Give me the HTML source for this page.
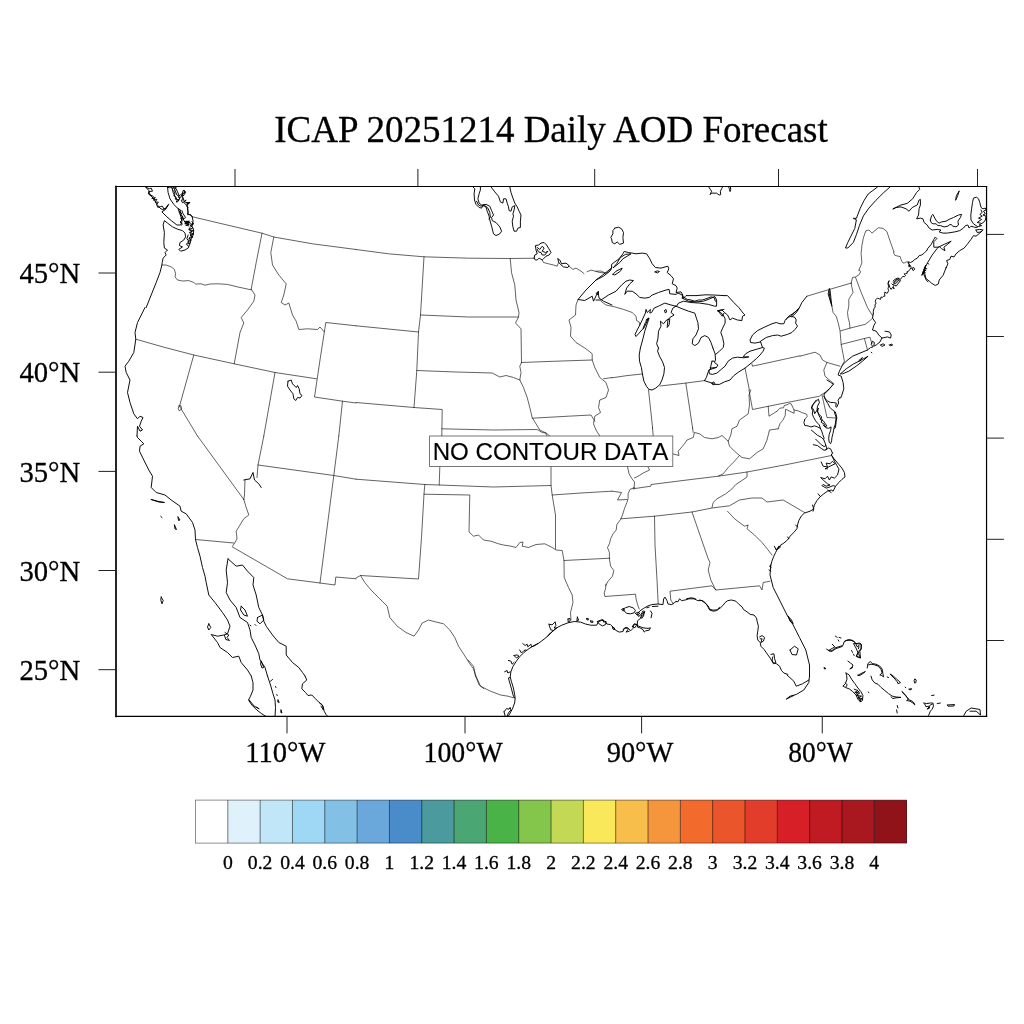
<!DOCTYPE html>
<html><head><meta charset="utf-8"><title>ICAP 20251214 Daily AOD Forecast</title>
<style>
html,body{margin:0;padding:0;background:#fff;}
svg{display:block;}
text{font-family:"Liberation Serif","Times New Roman",serif;fill:#000;stroke:#000;stroke-width:0.3px;}
.sans{font-family:"Liberation Sans",Arial,Helvetica,sans-serif;stroke-width:0.15px;font-kerning:none;}
</style></head><body>
<svg width="1024" height="1024" viewBox="0 0 1024 1024">
<rect width="1024" height="1024" fill="#fff"/>
<text x="551" y="141.7" font-size="37" text-anchor="middle">ICAP 20251214 Daily AOD Forecast</text>
<clipPath id="c"><rect x="116" y="186.5" width="870.6" height="529.8"/></clipPath>
<g clip-path="url(#c)" fill="none" stroke-linejoin="round" stroke-linecap="round">
<path d="M161.9,265 166.2,265 171.2,266.9 174.4,269.4 175.6,273.8 175,276.9 177.5,280 182.5,281 188.8,280.6 193.8,282.5 195.6,284 201.2,283.8 205,285.2 210,284 217.5,283.8 227.5,284.4 237.5,286.9 251,289.8M192.5,216.8 225,224.5 262,233.2 273.8,237 312.5,243.8 356,249.5M262,233.2 256.2,262.5 251.2,289.2M273.8,237 270.8,252.5 272.5,265 278.8,275 286.2,283.8 283.8,295 281.2,302.5 285,305 288.8,303 292.5,315 296.2,321.2 298.8,329.5 307.5,328.8 317.5,329.5 320,327 324.2,331.8M251.2,289.2 255,295 253.8,301.2 247.5,310 241.2,317.5 243.8,323 240,332.5 234.2,363.8M135.8,339.2 165,347.5 193.8,355 234.2,363.8 275,372.5 316.5,378.8M356,325.8 325.8,322.5 320,360 314.5,397 342.5,401.2 356,403M342.5,401.2 338.8,436M275,372.5 263.8,436M193.8,355 179.5,406.2 197.5,436M179,405.8 181,405.8 181.5,408.8 179.5,411 178.2,408.8 179,405.8M542.2,260 543.5,262.5 548.5,263.8 553.5,265 557.2,266.2 558.5,262.5M569.1,266.2 572.9,269.4 576,268.1 581,271.2 584,273.5M356,249.5 388.5,253.8 424,256.8 468.5,258.2 510.2,258.5 534.8,258.2M587,271.8 591,270 599.8,272.5 605,273M424,256.8 420.5,315 418.5,332 416.8,370.5 414,407.5M356,325.8 418.5,332M420.5,315 468.5,317 518.5,317M416.8,370.5 456,372 492.2,373 499.8,377 506,375.5 513.5,377.5 519.8,380M356,402.5 414,407.5 442.2,409.5 441.8,436M441.8,428.8 493.5,430 537.2,429.5 542.2,432.5 546,433M510.2,258.5 511.5,272.5 514.8,285 516,300 519,312.5 518.5,317 515.5,323 521,328.8 521.5,362.5M521.5,362.5 556,361.2 592.2,360M521.5,362.5 519.8,366.2 521,372.5 519.8,380 523.5,387.5 527.2,397.5 529.8,407.5 532.2,417.5 536,423.8 539.8,430 546,433 549.8,436M532.2,418.2 568.5,416.2 591,415 594.8,421.2M578,299.5 576,305 575.5,315 569,320 571,327.5 570.5,336.2 576,342.5 586,348.8 592.2,353.8 592.2,360 594.8,367.5 599.8,377.5 606,382.5 608.5,390 606,397.5 599.8,400 598.5,407.5 600.5,412.5 594.8,416.2 593.5,423.8 596,430 599.8,436M603.5,378.8 612,377.5M596,271.2 601,271 605.4,273.1 607.9,272.5 611,269.4M601,301.2 606,305 614.8,306.9 623.5,309.4 632.2,312.5 636,316.2 636.6,320.6 639.1,321.9 639.8,325M612,377.8 627,375.6 642,374M648.5,389.8 652.6,428M660.1,386 685.8,383.1 704.5,380.6M685.8,383.1 692.6,428M751.9,363.8 752.5,366.2 787.5,358.5 800,355.8M745,368.1 749.4,390M806.9,296.2 827.5,290 851.2,283.1M831.9,306.2 833.1,312.5 836.2,316.2 838.1,322.5 840,330.6 841.2,344.4 844.4,361.2 842.5,365M851.2,283.1 851.9,287.5 853.1,292.5 850.6,296.2 848.8,299.4 848.8,306.2 847.5,312.5 848.1,317.5 849.4,322.5 850,328.1M859.4,270 860.6,271.9 858.8,275 855.6,276.9 852.5,277.5 851.2,283.1M855.6,277.5 861.2,292.5 867.5,307.5 872.5,315.6M840.6,330.9 850,328.1 865,324.4 869.4,321.2 872.5,318.1M841.2,344.4 864.4,338.5 870,337.2 871.9,343.8M864.4,338.5 867.5,350M800,356.2 815,352.2 820,355 822.5,360 826.9,362.5 840,366.2M826.9,362.5 823.8,370 825,376.2 833.8,383.8 826.9,391.9 824.4,393.8M858.8,270.6 861.9,262.8 861.1,253.4 861.9,245.6 863.4,237.8 865.8,230.8 868.9,230 872,233.1 878.3,227.7 883,228.4 886.9,231.6 890,240.9 893.9,251.9M197.5,436 243.8,499.5M243.8,499.5 246.2,507.5 248.8,515 243.8,518.8 240,525 236.2,531.2 237,538.8 235,542.5 232.5,546.2M263.8,436 258,465 257,477.5M245,480 244.5,495 243.8,499.5M258,465 333.8,475.5 356,479.2M195.5,539.5 233.8,543M232.5,547 287.5,578.8 320,583 335,585 335.8,577 356,578.8M338.8,436 333.8,475.5 320,583M441.8,436 439.8,467.5 439.2,485M356,479.2 424.8,484.5 439.2,485 493.5,487 551,485.5M424.8,484.5 424,494.2 421.5,537.5 418.5,579 360.5,575.5 356,578M424,494.2 469.8,495 469,532 473.5,536.2 478.5,535 483.5,540 491,541.2 498.5,543.8 503.5,545 511,546.2 516,547.5 519.8,542.5 523,542 522.2,546.2 528.5,547.5 536,544.5 544.8,543.8 552.2,547.5 556,550 562.2,550.5 564,560.5 564.2,577.5 568.5,587.5 572.2,595 573,602.5 570.5,612.5 571,620M546,433.8 548,438.8 551,443.8 551,485.5 552.2,495 555.5,515 555.5,548.8M552.2,495 581,493 612,491.2M564,560.5 609.8,558.2M360.5,575.5 364.8,582.5 371,590 379.8,598.8 387.2,606.2 389.8,617.5 397.2,626.2 406,632.5 414,636.2 418.5,630 422.2,623 428.5,620 436,622 443.5,623.8 449.8,630 454.8,637.5 458.5,646.2 463.5,653.8 469.8,663.8 473.5,668.8 475.5,676M652.5,427.5 653.2,436.2M692.5,427.5 693.2,432.5M672.5,453.8 679,455.5 678.2,451.2 684.5,443.8 687,440 693.2,437.5 694.5,432.5 699.5,433.8 704.5,437.5 712,438.8 718.2,437.5 722,435.5 728.2,441.2 730.8,435 732,428.8 737,426.2 739.5,420 748.2,413.8 749.5,405 749,395 750.8,390M749,390 752.5,409.5 787,402.5 819.5,396.2M768.2,406.2 769,416.2 777,411.2M778.2,428.8 769.5,430 767,440 763.2,448.8 757,452.5 749.5,458.8 742,457.5 739.5,455.5 734.5,451.2 729.5,446.2 728.2,441.2M739.5,455.5 734.5,461.2 728.2,467.5 723.2,473.8 718.2,476.2M633.2,488.8 650.8,486.2 651.2,484.5 687,480 718.2,476.2 747,472 787,464.5 831.5,455.5M747,472 747,477 742,480.5 735.8,484.5 732,488.8 725.8,493.8 717,498.8 713.2,502.5 712,507.5M627.5,466.5 629,473.8 632,478.8 634.5,482 634,488.8M634.5,478 638.2,476.2 643.2,473 649.5,470 647.8,466.5M612,491.2 621.5,492.5 617.5,500 627,499.5M822,395 827,417.5 837,418M620.8,518.8 654.5,516.2 692,512 712,508 729.5,505.8 739.5,500 752,498 762,498 767,502 783.2,500 804.5,512.5M727.5,511.2 734.5,518.8 744.5,526.2 748.2,525 747,528.8 754.5,535 762,542.5 768.2,550 772,555M654.5,516.2 655,545 657,580 658.2,603.8M692,512 700.8,537.5 708.2,558.8 710,562.5 708.2,570 710.8,580 714.5,587.5 715.8,590M673.2,603.8 670.8,600 670,591.2 712,585.8 715.8,590 759.5,585.8 762,590 763.2,582.5 770,581.2M475.5,676 479.2,685 484,688.8M468,660 473.5,666.2 475.5,675 480.5,686.2 490.5,691.2 500.5,695 508,696.2 514.2,698M606.1,584 605.5,589 604.2,592.8 604.9,596.5 635.5,594.2 636.1,599 637.4,604 639.2,609M777,411.2 780,408.1 783.6,407.8 784.2,405.5 787,404.8 789.4,403.4 791.2,403.9 794.1,410 798.3,410.9 802.5,412.8 806.7,414.2 807.2,416.6 804.8,419.4M794.1,410 794.1,413.3 785.6,409.2 785.2,415.6 782.8,420.3 780,423.6 778.2,428.7M820.3,395.5 825.5,392.2M634.4,487.5 630,489.4 628.1,493.8 628.1,498.8 626.9,502.5 624.4,508.8 622.5,515 620.6,519.4 616.9,524.4 616.2,530 613.1,533.8 610.6,538.8 609.4,543.8 607.5,547.5 609.4,552.5 609.4,558.8 610.6,566.2 613.8,570.6 612.5,576.2 608.1,581.2 605.6,585.6M893.9,251.9 893.6,253.1 894.9,255.3 898,256.2 900.2,256.6 900.8,258.8 901.8,261.2 903,263.1 904.9,262.8 906.1,261.9 908,261.9" stroke="#000" stroke-width="0.62"/>
<path d="M145.6,186.9 148.8,190.6 150,195 153.8,198.8 156.9,204.4 160,208.1 163.1,210 166.2,208.1 168.1,205 165.6,209.4 161.9,211.9 166.2,216.2 171.2,220.6 176.9,225 180.6,225 181.9,221.9 181.2,217.5 179.4,212.5 178.1,208.8 173.8,204.4 170,198.8 168.1,192.5 167.5,186.9M171.9,186.9 173.1,192.5 175.6,197.5 178.1,200.6 180,197.5 183.8,193.8 185,191.2 183.1,190.6 181.9,195 182.5,198.8 185.6,202.5 189.4,202.5 186.9,205 187.5,206.9 188.1,213.8 191.2,215.6 192.1,216.5M173.8,187.5 176.9,195 179.4,196.2 176.2,188.8M192.1,216.5 193.1,221.2 191.9,226.2 193.8,230 193.1,235 191.2,238.8 190,243.8 188.1,248.1 185,250 180.6,251.2 178.8,249.4 182.5,246.9 179.4,245.6 180,242.5 183.8,240 185.6,236.9 185,233.1 182.5,230.6 178.1,229.4 172.5,226.9 167.5,223.1 164.4,220.6 163.1,225 164.4,232.5 163.8,242.5 164.4,248.1 167.5,250 165,252.5 166.2,255 163.1,258.1 162.2,262.5 161.9,265 160,272.5 156.2,282.5 151.2,295 146.2,307.5M182.5,217.5 185,222.5 188.8,225 186.9,221.2 190.6,223.1 192.5,225 190,227.5 188.8,229.4 191.9,231.2 190,233.8 192.5,236.2 189.4,237.5 188.8,241.2 186.9,238.8 188.1,235M180,210 181.2,215 183.8,218.8 185.6,217.5 183.1,213.8 181.9,210.6M288,381.2 291.2,380 292.5,383.8 296.2,387.5 297.5,385.5 299.2,388.8 300,393.8 302,395.5 300,398 297.5,397.5 295.8,400.5 293.8,398.8 293,393.8 290,390 287.5,386.2 288,381.2M145,307.5 137.5,322.5 135,332.5 135.8,339.2 133.8,352.5 128.8,361.2 125,366.2 126.2,372.5 130,380 127.5,392.5 130,402.5 133.8,413.8 137.5,418.8 140,416.2 143,417.5 141.2,421.2 139.5,426.2 142.5,430 140,431.2 137.5,426.2 137,436M472.9,186.9 474.8,188.8 474.1,193.8 474.5,200 476,204.4 479.1,207.5 481.6,208.1 482.9,205.6 486,206.9 487.2,211.2 489.1,216.2 489.8,220 491.6,226.2 493.5,233.8 496,235.6 499.8,233.8 501.6,231.2 499.8,226.9 496,222.5 492.2,220.6 491.6,217.5 493.5,215 491.6,210.6 489.8,206.2 486,204.4 481.6,205 479.1,203.1 477.9,198.8 479.1,193.8 480.4,190 480.4,186.9M476.6,201.2 478.5,205 481,206.2 484.1,205 487.9,208.1 489.8,212.5 490.4,217.5 488.8,218.8M491,186.9 494.8,191.9 498.5,196.2 500.4,201.9 502.9,203.1 503.5,198.8 506,198.8 507.2,203.1 508.5,206.9 509.1,210.6 511,211.2 512.2,206.9 514.8,205.6 514.1,210 512.9,213.8 513.5,216.2 512.2,221.2 512.9,226.9 514.1,231.2 516.6,231.2 517.9,228.1 520.4,227.5 520.4,221.2 521,215 519.1,211.2 517.2,206.9 514.8,203.1 512.9,198.1 511,192.5 509.8,186.9M534.1,258.1 534.8,255 537.2,253.8 536,250 535.4,245.6 538.5,245 541,243.1 544.1,242.5 546.6,245 548.5,248.1 551,252.5 549.1,255 546,256.2 543.5,258.8 542.2,260 539.1,258.1 537.2,260 535.4,260 534.1,258.1M537.2,247.5 539.8,249.4 542.2,246.2 544.1,248.1 542.2,251.2 545.4,252.5 547.9,251.2 544.8,255 542.2,255 541,252.5 538.5,251.9 537.2,249.4M557.9,258.8 559.8,260 561.6,263.8 566,263.1 569.1,265.6 567.9,267.5 563.5,266.9 560.4,264.4 558.5,261.9 557.9,258.8M612,267.5 606,272.5 596,280 586,290 578,299.5 584.8,300.5 592.2,296.2 593.5,301.2 598,291.8 599,298 603.5,301.2 612,305M614.8,228.1 618.5,227.2 621.6,228.8 623.5,232.5 622.9,237.5 623.5,243.1 619.8,244.4 617.2,241.9 614.8,243.8 612.2,242.5 611.6,238.8 610.8,237.5 612.9,233.8 612.9,230.6 614.8,228.1M596,280 603.5,276.2 609.8,271.2 611.6,268.1 611.6,264.4 614.8,261.9 619.1,258.8 622.9,253.8 624.1,251.5 628.5,252.5 632.2,253.1 636,253.8 642.2,253.1 646.6,253.8 649.8,258.8 652.2,263.8 655.4,267.5 661,268.1 667.9,266.2 668.8,268.8 667.2,272.5 671,275.6 673.5,278.8 672.2,283.8 676,285.6 677.2,288.1 676,292.5 681,291.9 682.9,295 682.2,298.1M613.5,267.5 616.6,263.8 620.4,257.5 625.4,254.4 631,253.8 627.2,256.2 622.9,258.8 619.8,262.5 616,265.6 613.5,267.5M612.9,274.4 616,271.2 622.2,268.1 620.4,271.2 614.8,275 612.9,274.4M655,271.9 657.2,270.9 659.5,271.5 657.5,272.9 655,271.9M596,300 601,300 608.5,295 616,291.2 621.6,285 626,281.2 629.8,280 633.5,280.6 629.8,283.8 626.6,288.1 624.8,294.4 627.2,291.2 632.2,291.2 636,293.8 639.8,297.5 644.8,298.1 649.1,297.5 652.2,295 658.5,292.5 666,290 669.1,289.4 669.8,293.8 676,294.4 677.9,293.1 682.2,295 683.5,298.1M596.6,293.1 598.5,291.2 597.9,295 596.6,293.1M676,306.2 671,305 664.8,303.1 658.5,306.2 654.1,308.1 651.6,312.5 649.8,313.1 650.4,309.4 647.2,312.5 646,309.4 645.4,313.1 642.2,320 639.8,325 637.2,330 635,334.4 636,336.5 639.1,333.1 642.9,328.8 645.4,322.5 647.9,318.8 649.1,318.1 647.2,323.8 644.8,331.2 642.9,338.8 640.4,348M646,320 648.5,318.1 645.4,325 643.5,328.8M676,306.2 672.9,308.1 671,312.5 674.1,315 669.8,317.5 667.9,320 667.2,327.5 669.1,325 669.8,318.8 666.6,320 663.5,323.8 660.4,321.2 661,326.2 658.5,331.2 657.9,338.8 656.6,343.8 658.5,348M676,306.2 682.2,308.8 688.5,311.2 694.8,313.1 696.6,318.8 697.9,322.5 698.5,328.8 696,335 692.9,338.8 692.2,343.8 694.8,345.6 698.5,343.1 701,337.5 704.8,335.6 708.5,337.5 711,342.5 712.9,348M664.5,310.6 666,309.4 666.6,311.9 665.4,313.1 664.5,310.6M683.5,298.1 686,295.6 696,295.6 706,294.8 713.5,295 724,295.6M682.2,298.1 688.5,301.2 696,301.9 703.5,301.2 709.8,298.8 714.8,296.5 716.6,300 716.6,306.2 714.8,306.2 708.5,304.4 699.8,303.1 691,302.5 683.5,301.2 678.5,303.1 676.6,306.2M683.5,296.9 687.2,299.4 691,300 694.8,301.2 698.5,300 702.2,300 706,298.8 711,296.9 714.1,297.5 715.4,301.2M717.9,310.6 724,309.4M717.9,310.6 722.2,316.2 724,313.1M640.4,348 639.2,355 639.5,361.2 641.4,367.5 642.6,375 643.9,381.2 646.4,386.2 648.9,389.4 652,390 655.8,388.1 659.5,385 662,380 663.9,373.8 664.5,367.5 662.6,361.9 659.5,356.2 657.6,351.2 658.5,348M712.9,348 715.1,353.8 715.5,360 714.8,361.5M712,361.2 710.8,366.2 710.1,368.1 716.4,367.5 717.9,365 715.1,363.1 713.9,361 712,361.2M710.8,368.1 708.2,371.9 706.4,377.5 704.5,380.6M715.5,354.4 719.5,351.2 723.2,347.5 723.9,343.8 722.6,337.5 720.8,332.5 722.6,328.1 725.1,323.1 725.1,318.8 723.2,315 720.1,311.9 717.6,311 722,310 724.5,312.5 727.6,315 730,320 732.5,318.1 737.5,320 741.9,320.6 742.5,316.2 745,315 743.1,313.1 738.8,307.5 733.8,302.5 727.5,295.6 724,295.6M704.4,380.6 711.9,383.1 714.4,384.4 719.4,384.4 724.4,381.9 730,380 733.8,375.6 738.8,371.9 745,368.1 751.2,363.1 756.2,358.8 760,355 763.1,351.2 764.4,348.1 762.5,347.5 756.2,349.4 750,351.2 745.6,353.8 743.1,356.9 748.8,356.9 743.8,357.8 737.5,357.2 732.5,358.1 728.1,361.2 725,366.2 721.2,369.4 716.9,373.1 712.5,374.4 709.4,373.8 708.8,370 716.2,367.5M711.9,383.1 713.8,381.9 715,383.8 713.1,385 711.9,383.1M762.5,347.5 760.6,341.9M760.6,341.9 755,343.1 750.6,342.5 750,340 752.5,335 757.5,330.6 765,326.9 771.9,323.8 776.2,322.5 780,323.8 783.8,323.8 785,320.6 787.5,317.5 791.2,316.2 795,317.5 796.2,320 795.6,323.1 797.5,326.2 795,329.4 791.9,332.5 787.5,334.4 781.2,336.2 777.5,335 772.5,335.6 766.2,337.5 760.6,341.2M786.2,319.4 788.8,316.2 792.5,313.8 796.2,311.2 798.8,308.1 796.9,311.9 793.8,315 791.9,316.9M791.2,316.2 794.4,312.5 798.8,308.8 801.9,302.5 806.9,296.2M829.4,288.8 828.1,293.8 830,300 831.9,306.2 831.2,301.2 830.6,295 830,290 829.4,288.8M829,290.6 829.8,296.9 831.2,303.1M873.2,314 872.5,318.1 875.6,322.5 873.8,325.6 872.5,330 876.2,331.2 878.8,335 881.9,338.1 887.5,336.9 890.6,338.1 891.2,335 889.4,331.9 885,331.2M881.9,338.1 880,341.9 876.2,345 873.8,346.2 874.4,342.5 872.5,341.2 871.2,344.4 873.1,346.9 870.6,347.5 867.5,350 860,353.1 852.5,356.2 846.2,361.2 842.5,365 839.4,371.2 838.1,375 841.2,376.2 843.1,382.5 843.8,388.8 841.9,395 840.6,398M840.6,373.8 846.2,368.8 853.8,363.8 862.5,359.4 868.1,356.2 862.5,361.2 856.2,366.2 848.8,371.2 842.5,373.8 840.6,373.8M858.8,360.6 862.5,357.5 860,361.2M880.6,345 883.1,343.8 885,345 881.9,346.5 880.6,345M889.4,345 891.9,344 892.5,345.2 890.2,345.8 889.4,345M871.2,352.2 871.9,352.8M921.9,275 925,270M923.1,272.5 926.2,280 928,281.9M877.5,187 868.1,194.1 864.2,200.3 860.3,208.1 856.4,218.3 853.3,218.3 856.4,219.8 854.8,228.4 850.9,236.2 847.8,242.5 845.5,248 847.8,248 853.3,242.5 856.4,234.7 859.5,225.3 863.4,215.9 868.9,208.1 875.9,200.3 883.8,192.5 890,187M927,250 927.5,248.8 931.4,244.1 933.8,239.4 935.3,237 936.9,238.6 933.8,241.7 933.8,247.2 938.4,247.2 944.7,244.1 951.2,241.2 947.8,244.1 943.9,247.2 945,250.6 941.6,248.8 939.2,246.4 936.9,248.8 932.2,255 927.5,262.8 924.4,269.1 922,275.3 923.6,270.6 925.6,265.2 924.4,272.2 925.9,278.4 929.8,281.6 931.4,283.1 935.3,285.5 938.4,283.9 939.2,280 943.1,275.3 946.2,267.5M911.9,268.3 913.8,267.5 914.7,269.4 913.1,270.6 911.9,268.3M893.1,208.9 900.9,205 907.2,203.4 912.7,198.8 916.6,192.5 919.7,189.4 918.9,187M959.1,191.2 956.4,195.6 955.6,200.3 957.5,196.4 959.1,191.2M137,436 137.5,437.5 141.2,441.2 143.8,443.8 140,446.2 139.5,451.2 143.8,460 148.8,470 152.5,476.2 151.2,487.5 156.2,492.5 165,495 171.2,500 180,506.2 181.2,511.2 186.2,513.8 192.5,522.5 195,530 195.5,539.5 197.5,547.5 200,556.2 202.5,567.5 205,576.2 206.2,582.5 208.8,595 215,602.5 222.5,612.5 227.5,620 230,626.2 227.5,633.8 223.8,635 217.5,636.2 211.2,634.5 217.5,642.5 220,647.5 227.5,652.5 232.5,657.5 238.8,656.2 241.2,662.5 247.5,670 251.2,676M151.2,499.5 157.5,501.2 164.5,502.5 158.8,502 151.2,499.5M160.8,516.5 162,517.5M178,517 180,520 178.5,520.5 178,517M174.5,525 176.5,529.5 175,529 174.5,525M161.2,597 163.2,600.5 162,603.8 160.8,600 161.2,597M208.8,623.8 210.8,627.5 208.8,630 207.5,627 208.8,623.8M225,632.5 228.8,635 227,637.5 229.5,640.5 225.8,639.5 224.5,635.5M228,558.8 226.2,570 227.5,582.5 226.2,592.5 230,600 236.2,607.5 240,617.5 247.5,622.5 250,630 251.2,637.5 255,645 258.8,653.8 260,660 265,667.5 267.5,676M228,558.8 236.2,566.2 242.5,565 247.5,571.2 253.8,577.5 253,585 256.2,595 258.8,607.5 262.5,615 263.8,621.2 266.2,626.2 272.5,635 278.8,642.5 286.2,646.2 286.2,655 292.5,662.5 298.8,667.5 302.5,672.5 305,676M241.2,606.2 245,610 247.5,616.2 243.8,615 240.5,610 241.2,606.2M257.5,617.5 262.5,615 263.8,620 260,623.8 257,621.2 257.5,617.5M250,625 251,626M255,624.5 256,625.5M261.2,661.2 263.8,667.5 262,668 260.5,663.8 261.2,661.2M243.8,480 250,478.8 253,472.5 254.5,480 258.8,483.8 261.2,487.5M790,650 794.5,646.2 798.2,648.8 796.5,655 792,654.5 790,650M809.5,676 809.5,665 805.8,650 799.5,637.5 793.2,625 787,615 779.5,600 773.2,587.5 770,575 770.8,565M788.2,616.2 791.5,620 793.2,623.8 790,621.2 788.2,616.2M251.2,676 253,682.5 253,690 250.5,696.2 248.5,700 251.8,705 256.8,710 261.8,713.8 266.8,717M249.2,700 254.2,706.2 259.2,708.8 256,707M267.5,676 270.5,685 273,693.8 275,700 275.5,707.5 275,717M270.5,681.2 272.5,679.5M275.5,686.5 276,687.5M276.8,694.5 277.2,695.5M278,700 279.2,702.5 277.8,702 278,700M281,710 282,713 280.8,712.5 281,710M305,676 306.8,680 302.5,683.8 301.8,688.8 305.5,692.5 308,695.5 311.8,695 315.5,698.8 319.2,702.5 323,706.2 324.2,711.2 326,714.5 328.5,717M319.2,702.5 322.5,705 323.5,710 321,706.2M787,675 793.8,681.2 796.2,686.2 802.5,683.8 808.8,680M809.5,676 808.8,682.5 803.8,690 796.2,694.5 790,696.2 786.2,699.2 793.8,695.5M947.5,705 954.5,704.5 954,706 948,706.2 947.5,705M963.8,715.5 966.2,711.2 971.2,708 980,709.5 980.5,715 976.2,711.2 970,711.2M556.8,627.8 561.8,625.2 568,622.8 574.2,621.5 580.5,622.1 585.5,624 590.5,625.2 596.8,625.2 598,622.1 601.8,620.2 605.5,621.5 606.8,624 610.5,624.6 613,627.1 615.5,630.2 619.2,632.1 623,631.5 624.2,628.4 628,627.8 630.5,630.9 633,628.4 633.6,625.2 636.1,624 638,625.9 643,627.8 648,628.4 650.5,627.8 649.2,630.2 645.5,630.9 644.2,632.1 643,629.6 639.9,627.8 637.4,627.1 637.4,620.9 640.5,618.4 643,615.2 644.9,611.5 643,610.9 641.1,614.6 638.6,616.5 637.4,614 639.9,610.9 643.6,608.4 648,605.9 651.8,604.6 658,604 663,604.6 663.6,599 664.9,597.1 666.8,600.2 668,604 671.8,604.6 674.2,602.8 676,601.5M568,619 569.9,618.4 570.2,620.9 568.2,622.1 568,619M577.4,617.1 578.6,620.2 576.8,620.9 577.4,617.1M586.8,618.4 588.6,618.8 588.2,620 586.8,619.8 586.8,618.4M590.5,620.9 593,621.2 592.8,622.5 590.8,622.2 590.5,620.9M597.4,621.5 600.5,620.2 603,619.6 603.6,622.1 606.1,621.5 605.5,624.6 602.4,625.9 599.2,624 597.4,621.5M612.4,627.1 614.2,627.8 614.9,629.6 613,629.2 612.4,627.1M623,629.6 626.1,627.1 628,629.6 626.1,632.1 629.2,631.2M632.4,626.5 634.2,623.8 636.8,624.6 634.9,627.8 632.4,626.5M623,609 625.5,607.8 629.2,606.5 633,607.8 635.5,610.2 634.2,612.8 630.5,613.8 626.8,613.4 624.9,611.8 623,609M621.8,609.6 623,608.4 624.5,609.6 623.4,611.2 621.8,609.6M635.5,613.4 637.4,615.2 639.9,613.4 638,612.1 635.5,613.4M640.5,617.8 642.4,613.4 644.2,612.1 643.6,615.9 641.8,618.4M650.5,610.9 652,613.4 651.1,617.8M646.8,607.8 649.2,607.1M652.4,606.5 658,606.2M840,397.3 838.1,400.2 838.6,403 836.7,407.2 835.8,406.7 836.2,403 833.4,402.5 830.6,402.5 827.8,401.1 825.5,399.2 824.1,396.4 824.1,394.1 825.5,392.2 829.7,388.4 833.4,384.2 830.6,382.3 826.9,380M824.1,396.4 825.9,400.6 827.8,403.4 829.7,407.2 832.5,410 835.3,411.9 836.2,414.7 836.7,417.5 836.2,421.2 835.8,425 835.3,427.8 833.9,428.7 833,433.4 832,437.2 831.6,440.9 830.6,443.7 829.2,442.3 828.7,438.1 829.2,434.4 830.6,430.6 831.1,426.9 828.7,428.3 825.9,427.8 824.1,424.1 821.2,422.2 822.2,419.4 819.8,417.5 818.4,413.7 817,410 817.5,406.2 819.4,402.5 818.4,399.2 815.6,401.6 812.3,405.3 811.4,408.1 812.8,410.9 812.3,414.2 813.7,417.5 815.6,420.8 817.5,423.1 819.4,425 820.3,428.3 817.5,426.9 814.7,425.9 810.9,426.9 808.1,425.9 804.8,425.5 803.9,422.7 804.8,419.4M834.4,412.3 836.2,417.5 835.3,424.1 833.9,428.3M816.1,400.2 813.7,403.4 811.9,407.2 813.7,410 814.7,413.7 816.6,410.9 818.4,408.1 817.5,411.9 819.4,414.7 821.7,417 820.3,419.4 823.6,421.2 825.5,424.1 826.9,425.9 825,426.9 823.1,425M820.3,428.3 821.7,431.1 822.7,434.4 824.1,438.1 823.6,439.5 821.2,437.2 817.5,435.3 814.2,432.5 811.4,430.2M823.6,439.5 825,442.8 825.9,445.6 824.1,446.6 821.2,444.7 818.4,441.9 815.6,439.1M825.9,445.6 826.9,448 825.9,449.8 824.1,450.3 821.2,448.4 817.5,445.6 813.3,444.7M825.9,449.8 828.7,448 830.6,448.9 832.5,453.1M145.9,187.4 149.4,188.7 151.2,188.1 152.5,191.2 148.8,191.5 148.4,194 150.9,195.9 150,194.6 153.4,196.5 151.9,198.7 155.3,197.4 153.4,200.2 156.9,199.3 155,202.1 158.4,202.1 156.6,204.6 157.8,207.4 160.6,206.5 162.5,206.2 163.8,209 166.2,207.8 168.1,204.6 168.8,204.3M178.1,208.4 180.6,210.2 179.1,212.1 181.9,213.4 180,215.2 183.1,216.5 180.6,218.4 183.8,219 181.2,220.9 180,222.1 182.5,224 181.2,225.2M184.7,221.5 189.4,221.2 185,222.4 189.7,222.4 184.7,223.7 189.4,224 185.6,225.2 188.8,225.9M191.9,221.5 193.8,224 190,225.2 193.1,227.8 188.8,229.6 193.4,230.6 189.4,232.4 193.8,234 190,235.2 193.1,237.1 189.4,238.4 191.2,240.2 187.5,242.1 190,243.4 186.2,244 188.8,246.5M167.5,187.1 169.4,187.8 171.2,186.8 172.5,189 174.1,187.1 176.2,187.4 173.8,190.9 175,194 173.8,195.9 176.2,197.1 175,199 177.5,199.6 176.2,202.1 178.1,201.5 180,197.8 178.1,197.1 180.6,194.6 183.1,195.9 181.9,193.4 185,192.8 183.8,190.2 185.6,192.1 184.4,194.6 182.5,196.5 183.8,199.6 181.2,200.2 182.5,202.8 185,200.9 186.2,200.2 183.8,202.1 185.6,204.6 188.8,202.8 190,202.4 188.1,204.6 186.2,205.9 188.1,207.1 187.5,209 188.1,211.5 187.5,214.6 190.6,214.6 191.9,216.5M708.2,186.2 710.1,189.1 711.6,191.2 710.1,194.7 711.6,193.1 716.6,193.2 719.1,195 720.7,194.7 720.4,191.2 721.6,188.8 722.9,186.2M728.2,186.2 729.4,188.8 730.1,191.6 730.7,189.4 730.4,186.2M927.1,250 926.1,251.2 924.2,253.1 921.8,255 919.2,255.6 917.4,258.1 914.9,259.4 913,261.2 910.5,262.5 908,261.9 909.2,264.4 908.6,266.2 910.5,265.6 911.1,267.5 909.9,269.4 908.6,271.2 906.8,271.9 907.4,273.1 905.5,273.8 904.2,273.8 905.5,275.6 904.2,276.9 903,276.2 901.8,277.5 900.5,279.4 898.6,278.8 896.8,279.4 894.9,280.6 893.6,282.5 895.5,283.8 897.4,281.9 899.2,280 900.5,280.6 898,283.8 896.1,286.2 894.9,285 893,286.2 894.2,288.8 892.4,287.5 891.1,289.4 889.9,287.5 889.2,285 888,283.1 889.2,280.6 888,283.8 888.6,286.2 888,288.8 888.6,290.6 887.4,293.1 886.1,293.1 884.9,291.9 884.6,293.8 884.9,296.2 883.6,296.2 882.4,297.5 881.1,296.9 880.5,299.4 879.2,298.8 877.4,298.1 876.1,299.4 875.2,301.2 876.1,303.1 874.9,305 875.2,306.9 873.9,308.8 873.3,311.2 873.3,314M893,281.2 894.9,279.4 897.4,278.1 899.2,278.4 896.8,280.6 894.2,283.1 893,285 891.8,283.8M924.2,268.1 926.8,268.8M923.6,270 925.8,270.6M923,271.9 925.2,272.5M927.4,263.1 928.9,264.1M908,263.4 909.9,265 909.2,266.9M676,601.5 677.8,601.9 679.6,598.8 681.5,600.6 685.2,600 689,598.8 694,598.8 697.8,600.6 701.5,600.6 705.2,603.1 708.4,606.2 709.6,610 713.4,611.2 716.5,610.6 720.2,608.1 722.8,605.6 725.2,602.5 727.8,600.6 731.5,600 735.9,601.2 739,604.4 742.1,606.9 743.4,609.4 747.1,611.9 750.2,614.4 754,615 756.5,618.1 757.1,621.2 758.4,626.2 757.8,631.2 757.1,635.6 757.8,640 760.2,642.5 760.9,646.2 764,649.4 767.1,653.8 770.2,658.1 772.8,662.5 776.5,663.8 779.6,666.2 781.5,670.6 784,673.1 787.8,674.4M759.6,636.9 762.1,635.6 764.6,637.5 763.4,641.2 760.9,642.5 762.1,638.8 760.2,638.8M770.9,654.4 774,653.8 774.6,658.8 775.9,662.5 773.4,663.8 772.1,660 772.8,656.9M686.5,598.8 690.9,597.8 695.2,598.5M699.6,600 703.4,601 706.5,604.4 709.2,609 713,610.2 717.1,609.8 719.6,607.2M556.8,627.8 555.2,629.2 551.5,632.4 547.8,636.1 544,639.2 539,643 534,645.5 529,648.6 524,652.4 519.6,656.8 515.9,661.8 512.8,666.8 510.9,671.8 510.2,676.8 511.5,681.8 513.4,688 514.6,694.2 515.2,698.6 514.6,703 512.8,708 510.2,713 508.4,716M549,624.2 552.1,624.9 555.2,621.8 555.9,625.5 554,628 556.5,628 553.4,630.5 550.9,629.9 549.6,626.8 549,624.2M547.8,636.1 549,634.2 552.1,631.8M522.8,643.6 525.2,645.5 527.1,644.2 527.8,646.8 530.9,644.2 531.5,646.8 535.2,645.5 537.8,643.6M519.6,649.9 521.5,653 524,650.5 525.9,649.9M514,655.5 516.5,658 519,656.1 517.1,654.9 514,655.5M508.4,660.5 510.9,661.1 512.1,664.2 514,662.4M504.6,671.8 507.1,670.5 507.8,673 510.2,671.8M510.2,677.4 508.4,678 510.9,686.8 513.4,696.1 514.6,698M504,711.8 506.5,708.6 509,709.2 510.2,707.4 510.9,709.9 508.4,713 507.1,716M504,711.8 505.2,716M832.5,453.1 831.2,455 835,460 838.8,464.4 841.9,468.1 844.4,472.5 845,476.9 841.9,479.4 838.8,482.5 835.6,486.2 833.1,491.2 831.2,490 827.5,491.2 823.8,493.8 820,496.9 816.9,500.6 814.4,505 813.1,509.4 810,511.2 804.4,513.1 801.2,516.2 798.8,520.6 797.5,525 796.9,528.8 793.8,532.5 790,536.2 787.5,540 783.8,543.1 780,545.6 777.5,548.8 775.6,552.5 773.8,556.2 771.9,561.2 770.6,566.2M821.2,461.9 823.1,466.2 827.5,466.9 826.2,463.1 830,463.8 832.5,461.2 835,463.8 830,466.2 825,468.8 827.5,468.8M831.9,455.6 834.4,461.2 836.9,465.6 838.8,468.8 838.8,470 837.5,475 834.4,478.1 831.2,476.9 829.4,480 827.5,476.2 825,478.8 820.6,477.5 823.8,480.6 827.5,483.8 830,485 826.2,486.2 823.1,484.4 821.9,485.6 826.2,488.1 830,486.9 833.1,485.6 835,486.2M818.1,493.8 820,496.2M827.5,490 831.2,492.5M812.5,505 813.8,508.8 813.1,511.2M795.6,525 797.5,526.9M787.5,536.9 789,538.8M774.4,546.2 776.2,550 778.8,546.2 780.6,546.9 777.5,549.4M769.4,566.2 771.2,567.5M769,570 770.8,571M893.1,208.9 896,207.5 901,206.9 906,208.8 909.1,211.2 912.2,207.5 917.2,205 919.1,200 920.4,199.4 920.4,205 919.1,208.8 918.5,215 916.6,218.8 920.4,218.1 922.9,218.8 924.1,222.5 927.2,225 929.1,228.1 932.2,230 937.2,229.4 941,230 939.1,231.9 942.9,233.1 947.2,233.1 951,232.5 954.8,231.9 959.8,230.6 963.5,228.1 965.4,225.6 967.9,225 969.1,228.1 971,226.2 973.5,226.9 976,227.5 977.9,226.9 973.5,223.8 971,220 970.8,215 971.6,208.8 972.5,202.5 973.5,198.1 976.6,197.2 978.5,198.8 979.8,202.5 981,207.5 982.9,208.8 985.4,208.1 986,210 983.5,211.2 985.4,213.8 982.9,215 986,216.2 985.4,220 983.5,222.5 981,223.8 979.1,225 981.6,225.6 978.5,226.5M981,210 982.2,212.5 979.8,214.4 982.2,216.2 978.5,218.1 981.6,219.4 977.2,222.5 980.4,223.1M930.4,220 931.6,215.6 932.9,214.4 934.8,218.1 936.6,221.2 939.1,223.1 941.6,221.9 946,221.2 949.1,219.4 953.5,217.5 958.5,215 961.6,214.4 960.4,217.5 957.9,221.2 958.5,225 956,226.9 952.9,226.2 951,224.4 949.1,225 947.9,226.2 944.1,226.9 940.4,225.6 937.9,225.6 936,223.8 932.9,223.8 931,222.5 930.4,220M976,230 979.8,229.4 982.9,230 981,231.9 977.2,232.5 976,230M946.2,267.5 946,268.1 947.9,263.8 946.6,260.6 949.8,259.4 951,256.2 954.1,256.9 956,253.8 959.8,250.6 964.1,248.1 967.2,244.4 971,239.4 973.5,235.6 976,236.2 979.8,233.1 982.9,230M826.6,649.2 829.8,651.1 832.2,650.5 834.8,648 838.5,646.8 842.9,645.5 844.1,641.8 846.6,640.5 851,640.2 854.1,641.8 856,643.6 859.8,643 861.6,644.9 861,649.2 859.1,650.5 858.5,653.6 860.4,658 856.6,656.1 857.9,652.4 856,648 853.5,643.6 856,643.6 861,644.2 861.2,649.2 859.8,651.1 860.5,658 856.2,656.5 858.2,652.4M832.2,644.2 834.8,646.8 832.9,648 828.5,650.5 831.6,651.5 836,648.6 842.2,646.5M844.8,641.1 848.5,639.5 852.9,640.5 855.4,642.8 857.2,646.8 859.1,645.5 858.5,648.6M835.4,636.1 837.2,637.4M839.1,637.4 841,638M838.2,639.9 838.8,641.1M851.6,650.5 852.5,652.4M853.5,654.2 854.1,655.5M847.9,661.1 850.4,663 852.9,664.9 852.2,668 849.8,669 852.2,666.8M824.2,667.8 825.2,667.8 825.5,669 824.5,669 824.2,667.8M846,673 849.1,674.9 851.6,679.2 854.8,683.6 857.9,688 861,691.8 862.9,695.5 862.5,700.5 860.4,701.8 857.9,699.2 856,694.9 852.9,691.8 849.8,689.2 845.4,687.4 842.9,686.1 845.4,683.6 847,679.2 846.6,675.5 846,673M854.1,689.2 857.9,690.5 854.8,692.4 859.8,693 856,695.5 861.6,696.1 857.9,698 862.5,698.6 859.1,700.5 861,701.8 858.5,696.8 856.6,693 859.1,691.1M845.4,683 847.2,684.9 846,686.8M857.9,675.2 861,673.6 865.4,671.5 862.9,673.6 859.1,675.8 857.9,675.2M867.2,668 867.9,663.6 870.4,661.5 872.2,663.6 876,664.2 879.8,666.1 882.2,669.2 882.9,673.6 883.5,676.8 881.6,675.5 879.8,674.9 882.2,673 881,669.2 877.9,666.1 874.8,664.9 871,664.2 868.5,664.9M871,676.1 872.2,679.9 874.8,683 877.9,684.2 881,687.4 884.8,690.5 888.5,693.6 892.2,696.1 896,697 901,697.4 896,697.8 892.9,698.6 891,696.8M890.4,674.2 893.5,676.1 896.6,679.2 899.8,681.8 900.4,682.8 897.9,683.6 897.2,681.8 894.1,678 891,675.2 890.4,674.2M914.8,679.2 916.2,679.9 915.8,682.8 914.5,683 914.1,680.5 914.8,679.2M909.1,689.2 911.6,688.6 911,689.9 909.1,689.2M905.1,687.1 905.8,687.8M902.2,691.8 904.8,694.2 907.2,697.4 909.1,699.9 912.2,701.1 914.1,703 914.8,704.9 912.9,703 909.8,701.1 906.6,700.5 908.5,699.2 905.4,695.5 902.9,693 902.2,691.8M923.5,703 926.6,703.6 930.4,703 932.9,703 933.5,706.1 932.2,709.2 930.4,711.1 929.1,714.2 928.5,715.5M924.8,704.2 926,706.8 928.5,706.1 929.8,708 927.2,709.2 930.4,704.9 932.2,704.2M931.6,695.5 934.1,695.2M937.2,703.6 940.4,703M897.2,705.5 897.9,708M896.6,709.9 897.2,713M868.2,692.1 868.9,692.6M887.2,677 888.5,677.5" stroke="#000" stroke-width="0.95"/>
</g>
<g stroke="#000" fill="none" stroke-linecap="square"><path d="M116 186.5H986.55" stroke-width="1.2"/><path d="M116 716.3H986.55" stroke-width="1.3"/><path d="M116 186.5V716.3" stroke-width="1.7"/><path d="M986.55 186.5V716.3" stroke-width="1.2"/></g>
<path d="M98.5 273.0H116M98.5 372.2H116M98.5 471.4H116M98.5 570.5H116M98.5 669.7H116M986.6 234.4H1003.9M986.6 336.5H1003.9M986.6 438.1H1003.9M986.6 539.3H1003.9M986.6 640.5H1003.9M287.0 716.3V733.4M465.0 716.3V733.4M641.6 716.3V733.4M822.25 716.3V733.4M235.0 169V186.4M417.9 169V186.4M594.7 169V186.4M778.5 169V186.4M977.5 169V186.4" stroke="#222" stroke-width="1" fill="none"/>
<text x="80.3" y="283.1" font-size="28.7" text-anchor="end">45°N</text>
<text x="80.3" y="382.3" font-size="28.7" text-anchor="end">40°N</text>
<text x="80.3" y="481.5" font-size="28.7" text-anchor="end">35°N</text>
<text x="80.3" y="580.6" font-size="28.7" text-anchor="end">30°N</text>
<text x="80.3" y="679.8" font-size="28.7" text-anchor="end">25°N</text>
<text transform="translate(285.4,761.8) scale(0.995,1)" font-size="28.7" text-anchor="middle">110°W</text>
<text transform="translate(463.1,761.8) scale(0.969,1)" font-size="28.7" text-anchor="middle">100°W</text>
<text transform="translate(640.0,761.8) scale(0.992,1)" font-size="28.7" text-anchor="middle">90°W</text>
<text transform="translate(820.5,761.8) scale(0.961,1)" font-size="28.7" text-anchor="middle">80°W</text>
<rect x="429.6" y="436" width="243.2" height="30.5" fill="#fff" stroke="#555" stroke-width="0.8"/>
<text class="sans" x="432.7" y="459.9" font-size="24.1">NO CONTOUR DATA</text>
<rect x="195.50" y="800.1" width="32.62" height="43.0" fill="#ffffff"/>
<rect x="227.82" y="800.1" width="32.62" height="43.0" fill="#dff2fb"/>
<rect x="260.15" y="800.1" width="32.62" height="43.0" fill="#c0e6f8"/>
<rect x="292.47" y="800.1" width="32.62" height="43.0" fill="#9fd8f5"/>
<rect x="324.79" y="800.1" width="32.62" height="43.0" fill="#82c0e6"/>
<rect x="357.12" y="800.1" width="32.62" height="43.0" fill="#6aa8db"/>
<rect x="389.44" y="800.1" width="32.62" height="43.0" fill="#4a8cc9"/>
<rect x="421.76" y="800.1" width="32.62" height="43.0" fill="#4a9a9e"/>
<rect x="454.08" y="800.1" width="32.62" height="43.0" fill="#4aa673"/>
<rect x="486.41" y="800.1" width="32.62" height="43.0" fill="#4ab347"/>
<rect x="518.73" y="800.1" width="32.62" height="43.0" fill="#84c54c"/>
<rect x="551.05" y="800.1" width="32.62" height="43.0" fill="#c3d955"/>
<rect x="583.38" y="800.1" width="32.62" height="43.0" fill="#f8e85a"/>
<rect x="615.70" y="800.1" width="32.62" height="43.0" fill="#f7be4b"/>
<rect x="648.02" y="800.1" width="32.62" height="43.0" fill="#f5963d"/>
<rect x="680.35" y="800.1" width="32.62" height="43.0" fill="#f26a2c"/>
<rect x="712.67" y="800.1" width="32.62" height="43.0" fill="#eb552c"/>
<rect x="744.99" y="800.1" width="32.62" height="43.0" fill="#e23d2a"/>
<rect x="777.31" y="800.1" width="32.62" height="43.0" fill="#d61f26"/>
<rect x="809.64" y="800.1" width="32.62" height="43.0" fill="#c01a22"/>
<rect x="841.96" y="800.1" width="32.62" height="43.0" fill="#a9171f"/>
<rect x="874.28" y="800.1" width="32.62" height="43.0" fill="#91131a"/>
<path d="M227.82 800.1V843.1M260.15 800.1V843.1M292.47 800.1V843.1M324.79 800.1V843.1M357.12 800.1V843.1M389.44 800.1V843.1M421.76 800.1V843.1M454.08 800.1V843.1M486.41 800.1V843.1M518.73 800.1V843.1M551.05 800.1V843.1M583.38 800.1V843.1M615.70 800.1V843.1M648.02 800.1V843.1M680.35 800.1V843.1M712.67 800.1V843.1M744.99 800.1V843.1M777.31 800.1V843.1M809.64 800.1V843.1M841.96 800.1V843.1M874.28 800.1V843.1" stroke="#000" stroke-opacity="0.75" stroke-width="0.7" fill="none"/>
<rect x="195.5" y="800.1" width="711.11" height="43.0" fill="none" stroke="#000" stroke-opacity="0.55" stroke-width="0.8"/>
<text x="227.82" y="869.2" font-size="19.7" text-anchor="middle" stroke-width="0.15">0</text>
<text x="260.15" y="869.2" font-size="19.7" text-anchor="middle" stroke-width="0.15">0.2</text>
<text x="292.47" y="869.2" font-size="19.7" text-anchor="middle" stroke-width="0.15">0.4</text>
<text x="324.79" y="869.2" font-size="19.7" text-anchor="middle" stroke-width="0.15">0.6</text>
<text x="357.12" y="869.2" font-size="19.7" text-anchor="middle" stroke-width="0.15">0.8</text>
<text x="389.44" y="869.2" font-size="19.7" text-anchor="middle" stroke-width="0.15">1</text>
<text x="421.76" y="869.2" font-size="19.7" text-anchor="middle" stroke-width="0.15">1.2</text>
<text x="454.08" y="869.2" font-size="19.7" text-anchor="middle" stroke-width="0.15">1.4</text>
<text x="486.41" y="869.2" font-size="19.7" text-anchor="middle" stroke-width="0.15">1.6</text>
<text x="518.73" y="869.2" font-size="19.7" text-anchor="middle" stroke-width="0.15">1.8</text>
<text x="551.05" y="869.2" font-size="19.7" text-anchor="middle" stroke-width="0.15">2</text>
<text x="583.38" y="869.2" font-size="19.7" text-anchor="middle" stroke-width="0.15">2.2</text>
<text x="615.70" y="869.2" font-size="19.7" text-anchor="middle" stroke-width="0.15">2.4</text>
<text x="648.02" y="869.2" font-size="19.7" text-anchor="middle" stroke-width="0.15">2.6</text>
<text x="680.35" y="869.2" font-size="19.7" text-anchor="middle" stroke-width="0.15">2.8</text>
<text x="712.67" y="869.2" font-size="19.7" text-anchor="middle" stroke-width="0.15">3</text>
<text x="744.99" y="869.2" font-size="19.7" text-anchor="middle" stroke-width="0.15">3.2</text>
<text x="777.31" y="869.2" font-size="19.7" text-anchor="middle" stroke-width="0.15">3.4</text>
<text x="809.64" y="869.2" font-size="19.7" text-anchor="middle" stroke-width="0.15">3.6</text>
<text x="841.96" y="869.2" font-size="19.7" text-anchor="middle" stroke-width="0.15">3.8</text>
<text x="874.28" y="869.2" font-size="19.7" text-anchor="middle" stroke-width="0.15">4</text>
</svg></body></html>
